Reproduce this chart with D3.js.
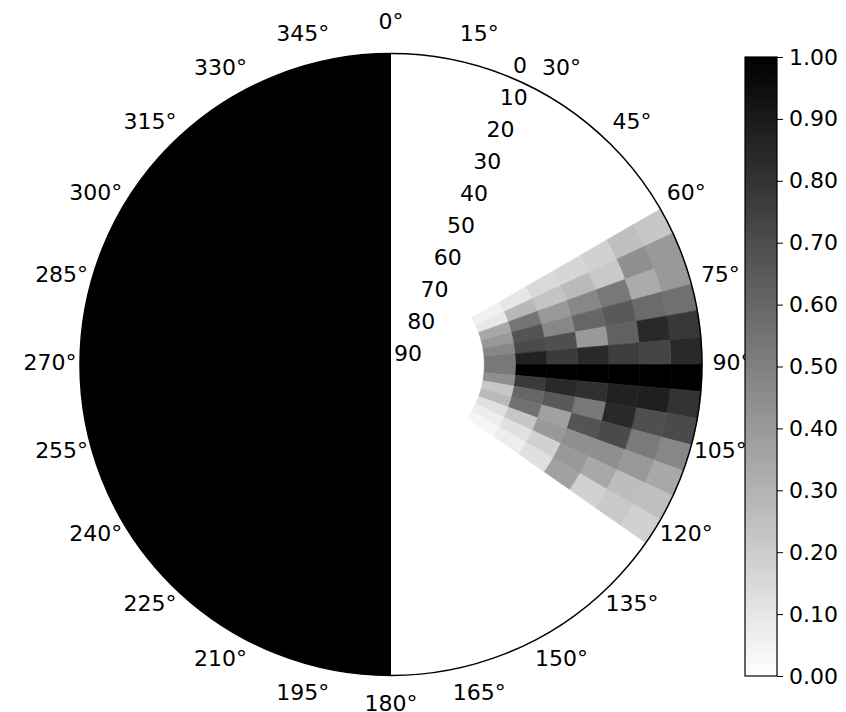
<!DOCTYPE html>
<html>
<head>
<meta charset="utf-8">
<script src="https://cdn.jsdelivr.net/npm/d3@7"></script>
<style>
body { margin: 0; background: #fff; }
text { font-family: "DejaVu Sans", sans-serif; fill: #000; }
</style>
</head>
<body>
<svg id="chart" width="846" height="712"></svg>
<script>
// azimuth bin edges (degrees, clockwise from north)
var thetaEdges = [60, 65, 70, 75, 80, 85, 90, 95, 100, 105, 110, 115, 120, 125];
// radial bin edges (radial axis value: 0 on the rim, 90 at the centre)
var rEdges = [0, 9, 18, 27, 36, 45, 54, 63];
// one row per azimuth bin, rim -> inside
var intensity = [
  [0.22, 0.25, 0.18, 0.16, 0.15, 0.10, 0.06],
  [0.40, 0.44, 0.21, 0.27, 0.23, 0.28, 0.09],
  [0.40, 0.33, 0.53, 0.47, 0.40, 0.54, 0.34],
  [0.56, 0.58, 0.65, 0.60, 0.47, 0.67, 0.40],
  [0.78, 0.84, 0.62, 0.40, 0.69, 0.71, 0.47],
  [0.84, 0.73, 0.76, 0.84, 0.77, 0.87, 0.53],
  [1.00, 1.00, 1.00, 1.00, 1.00, 1.00, 0.53],
  [0.80, 0.88, 0.87, 0.81, 0.84, 0.77, 0.44],
  [0.71, 0.69, 0.84, 0.53, 0.65, 0.60, 0.22],
  [0.47, 0.52, 0.71, 0.67, 0.37, 0.56, 0.27],
  [0.34, 0.40, 0.44, 0.44, 0.40, 0.22, 0.12],
  [0.25, 0.26, 0.34, 0.40, 0.18, 0.12, 0.07],
  [0.18, 0.21, 0.18, 0.37, 0.12, 0.07, 0.04]
];
// shaded half (azimuth range) and its value
var shadowSpan = [180, 360];
var shadowValue = 1;

var thetaTicks = d3.range(0, 360, 15);
var rTicks = [0, 10, 20, 30, 40, 50, 60, 70, 80, 90];
var cbarTicks = [0, 0.1, 0.2, 0.3, 0.4, 0.5, 0.6, 0.7, 0.8, 0.9, 1.0];

var cx = 391, cy = 364.5, R = 311;
var fs = "22px";
var svg = d3.select("#chart");

var r = d3.scaleLinear().domain([0, 90]).range([R, 0]);
var color = d3.scaleLinear().domain([0, 1]).range(["#ffffff", "#000000"]);
var rad = function(d) { return d * Math.PI / 180; };
var arc = d3.arc();

var plot = svg.append("g").attr("transform", "translate(" + cx + "," + cy + ")");

// shaded half disc
plot.append("path")
    .attr("d", arc({innerRadius: 0, outerRadius: r(0),
                    startAngle: rad(shadowSpan[0]), endAngle: rad(shadowSpan[1])}))
    .attr("fill", color(shadowValue));

// heatmap cells
var cells = [];
intensity.forEach(function(row, i) {
  row.forEach(function(v, j) {
    cells.push({t0: thetaEdges[i], t1: thetaEdges[i + 1], r0: rEdges[j], r1: rEdges[j + 1], v: v});
  });
});

plot.selectAll("path.cell")
    .data(cells)
    .enter()
    .append("path")
    .attr("class", "cell")
    .attr("d", function(d) {
      return arc({innerRadius: r(d.r1), outerRadius: r(d.r0),
                  startAngle: rad(d.t0), endAngle: rad(d.t1)});
    })
    .attr("fill", function(d) { return color(d.v); })
    .attr("stroke", function(d) { return color(d.v); })
    .attr("stroke-width", 0.6);

// outline
plot.append("circle")
    .attr("r", r(0))
    .attr("fill", "none")
    .attr("stroke", "#000")
    .attr("stroke-width", 1.5);

// azimuth labels
var labR = R + 30;
plot.selectAll("text.theta")
    .data(thetaTicks)
    .enter()
    .append("text")
    .attr("class", "theta")
    .attr("x", function(d) { return labR * Math.sin(rad(d)); })
    .attr("y", function(d) { return -2 - labR * Math.cos(rad(d)); })
    .attr("text-anchor", "middle")
    .attr("dy", "0.35em")
    .style("font-size", fs)
    .text(function(d) { return d + "°"; });

// radial labels along 22.5 deg
var rlAngle = rad(22.5);
plot.selectAll("text.rad")
    .data(rTicks)
    .enter()
    .append("text")
    .attr("class", "rad")
    .attr("x", function(d) { return r(d) * Math.sin(rlAngle) + 3; })
    .attr("y", function(d) { return -r(d) * Math.cos(rlAngle) - 4; })
    .attr("text-anchor", "start")
    .style("font-size", fs)
    .text(function(d) { return d; });

// colorbar
var cbX = 745, cbW = 32;
var cy0 = d3.scaleLinear().domain([0, 1]).range([676, 57]);

var grad = svg.append("defs").append("linearGradient")
    .attr("id", "cbgrad")
    .attr("x1", 0).attr("y1", 1).attr("x2", 0).attr("y2", 0);
grad.selectAll("stop")
    .data(cbarTicks)
    .enter()
    .append("stop")
    .attr("offset", function(d) { return d; })
    .attr("stop-color", function(d) { return color(d); });

svg.append("rect")
    .attr("x", cbX).attr("y", cy0(1))
    .attr("width", cbW).attr("height", cy0(0) - cy0(1))
    .attr("fill", "url(#cbgrad)")
    .attr("stroke", "#000")
    .attr("stroke-width", 1.2);

var cbAxis = svg.append("g")
    .attr("transform", "translate(" + (cbX + cbW) + ",0)")
    .call(d3.axisRight(cy0).tickValues(cbarTicks).tickFormat(d3.format(".2f")).tickSize(6).tickPadding(6));
cbAxis.select(".domain").remove();
cbAxis.selectAll("text")
    .style("font-size", fs)
    .style("font-family", "DejaVu Sans, sans-serif");
</script>
</body>
</html>
